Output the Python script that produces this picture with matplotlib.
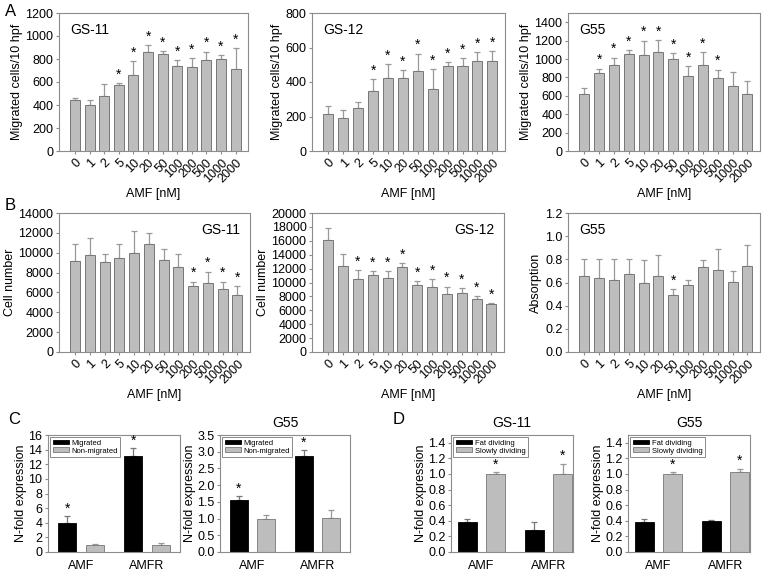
import numpy as np
import matplotlib
matplotlib.use('Agg')
import matplotlib.pyplot as plt

plt.rcParams['font.family'] = ['Liberation Sans', 'DejaVu Sans']
plt.rcParams['font.size'] = 9

# ---- data ----
doses = ['0', '1', '2', '5', '10', '20', '50', '100', '200', '500', '1000', '2000']

mig_gs11 = [445, 400, 480, 575, 660, 865, 845, 740, 730, 795, 800, 715]
mig_gs11_err = [15, 45, 100, 15, 125, 55, 25, 50, 80, 70, 35, 180]
mig_gs11_sig = [0, 0, 0, 1, 1, 1, 1, 1, 1, 1, 1, 1]

mig_gs12 = [215, 190, 252, 350, 425, 425, 465, 358, 490, 490, 520, 522]
mig_gs12_err = [47, 47, 31, 68, 80, 45, 100, 117, 27, 50, 55, 58]
mig_gs12_sig = [0, 0, 0, 1, 1, 1, 1, 1, 1, 1, 1, 1]

mig_g55 = [625, 850, 930, 1055, 1045, 1080, 995, 820, 930, 790, 710, 615]
mig_g55_err = [55, 45, 85, 45, 155, 125, 65, 105, 145, 95, 150, 145]
mig_g55_sig = [0, 1, 1, 1, 1, 1, 1, 1, 1, 1, 0, 0]

prol_gs11 = [9150, 9800, 9050, 9450, 9950, 10900, 9250, 8550, 6600, 7000, 6350, 5700]
prol_gs11_err = [1700, 1700, 800, 1400, 2250, 1100, 1100, 1300, 500, 1100, 750, 900]
prol_gs11_sig = [0, 0, 0, 0, 0, 0, 0, 0, 1, 1, 1, 1]

prol_gs12 = [16100, 12400, 10500, 11100, 10600, 12200, 9700, 9300, 8400, 8500, 7600, 6900]
prol_gs12_err = [1700, 1700, 1300, 500, 1000, 600, 500, 1200, 1000, 700, 400, 100]
prol_gs12_sig = [0, 0, 1, 1, 1, 1, 1, 1, 1, 1, 1, 1]

prol_g55 = [0.655, 0.64, 0.62, 0.67, 0.60, 0.66, 0.49, 0.58, 0.73, 0.705, 0.605, 0.745]
prol_g55_err = [0.145, 0.16, 0.18, 0.13, 0.19, 0.175, 0.05, 0.04, 0.06, 0.18, 0.09, 0.18]
prol_g55_sig = [0, 0, 0, 0, 0, 0, 1, 0, 0, 0, 0, 0]

genes = ['AMF', 'AMFR']

c1_mig = [4.0, 13.1]
c1_mig_err = [0.9, 1.1]
c1_non = [1.0, 1.0]
c1_non_err = [0.05, 0.2]
c1_sig = ([1, 1], [0, 0])

c2_mig = [1.55, 2.87]
c2_mig_err = [0.12, 0.18]
c2_non = [1.0, 1.02]
c2_non_err = [0.1, 0.25]
c2_sig = ([1, 1], [0, 0])

d1_fast = [0.38, 0.28]
d1_fast_err = [0.04, 0.11]
d1_slow = [1.0, 1.0]
d1_slow_err = [0.02, 0.13]
d1_sig = ([0, 0], [1, 1])

d2_fast = [0.38, 0.40]
d2_fast_err = [0.04, 0.01]
d2_slow = [1.0, 1.03]
d2_slow_err = [0.02, 0.04]
d2_sig = ([0, 0], [1, 1])

GRAY = '#bdbdbd'
EDGE = '#777777'
FRAME = '#8c8c8c'

W, H = 762, 571
fig = plt.figure(figsize=(W / 100, H / 100), dpi=100)


def px_axes(x0, x1, y0, y1):
    return fig.add_axes([x0 / W, 1 - y1 / H, (x1 - x0) / W, (y1 - y0) / H])


def style(ax):
    for s in ax.spines.values():
        s.set_color(FRAME)
        s.set_linewidth(0.8)
    ax.tick_params(axis='both', colors=FRAME, labelcolor='black', length=2.5, width=0.8, pad=1.5)


def dose_panel(ax, vals, errs, sig, ymax, yticks, ylabel, name, name_pos, fmt=None):
    x = np.arange(len(doses))
    ax.bar(x, vals, width=0.68, color=GRAY, edgecolor=EDGE, linewidth=0.7, zorder=2)
    ax.errorbar(x, vals, yerr=[np.zeros(len(vals)), errs], fmt='none',
                ecolor='#999999', elinewidth=0.9, capsize=2, capthick=0.9, zorder=1)
    for xi, v, e, s in zip(x, vals, errs, sig):
        if s:
            ax.text(xi, v + e + ymax * 0.01, '*', ha='center', va='bottom', fontsize=10)
    ax.set_xlim(-1.1, 11.85)
    ax.set_ylim(0, ymax)
    ax.set_yticks(yticks)
    if fmt:
        ax.set_yticklabels([fmt % t for t in yticks])
    ax.set_xticks(x)
    ax.set_xticklabels(doses, rotation=45, ha='right', rotation_mode='anchor')
    ax.set_xlabel('AMF [nM]', labelpad=2)
    ax.set_ylabel(ylabel, labelpad=2)
    if name_pos == 'left':
        ax.text(0.06, 0.93, name, transform=ax.transAxes, ha='left', va='top', fontsize=10)
    else:
        ax.text(0.95, 0.93, name, transform=ax.transAxes, ha='right', va='top', fontsize=10)
    style(ax)


axA1 = px_axes(59, 248, 13, 151)
dose_panel(axA1, mig_gs11, mig_gs11_err, mig_gs11_sig, 1200, range(0, 1201, 200),
           'Migrated cells/10 hpf', 'GS-11', 'left')
axA2 = px_axes(312, 505, 13, 151)
dose_panel(axA2, mig_gs12, mig_gs12_err, mig_gs12_sig, 800, range(0, 801, 200),
           'Migrated cells/10 hpf', 'GS-12', 'left')
axA3 = px_axes(568, 760, 13, 151)
dose_panel(axA3, mig_g55, mig_g55_err, mig_g55_sig, 1500, range(0, 1401, 200),
           'Migrated cells/10 hpf', 'G55', 'left')

axB1 = px_axes(59, 250, 213, 352)
dose_panel(axB1, prol_gs11, prol_gs11_err, prol_gs11_sig, 14000, range(0, 14001, 2000),
           'Cell number', 'GS-11', 'right')
axB2 = px_axes(312, 504, 213, 352)
dose_panel(axB2, prol_gs12, prol_gs12_err, prol_gs12_sig, 20000, range(0, 20001, 2000),
           'Cell number', 'GS-12', 'right')
axB3 = px_axes(568, 760, 213, 352)
dose_panel(axB3, prol_g55, prol_g55_err, prol_g55_sig, 1.2, np.arange(0, 1.21, 0.2),
           'Absorption', 'G55', 'left', fmt='%.1f')


def expr_panel(ax, a, a_err, b, b_err, sig, labels, ymax, yticks, fmt, title, xlim):
    x = np.arange(len(genes))
    off, w = 0.21, 0.28
    ax.bar(x - off, a, width=w, color='black', edgecolor='black', linewidth=0.6,
           label=labels[0], zorder=2)
    ax.bar(x + off, b, width=w, color=GRAY, edgecolor=EDGE, linewidth=0.6,
           label=labels[1], zorder=2)
    ax.errorbar(x - off, a, yerr=[np.zeros(2), a_err], fmt='none', ecolor='#777777',
                elinewidth=0.9, capsize=2, capthick=0.9, zorder=1)
    ax.errorbar(x + off, b, yerr=[np.zeros(2), b_err], fmt='none', ecolor='#999999',
                elinewidth=0.9, capsize=2, capthick=0.9, zorder=1)
    for xs, v, e, sg in ((x - off, a, a_err, sig[0]), (x + off, b, b_err, sig[1])):
        for xi, vi, ei, si in zip(xs, v, e, sg):
            if si:
                ax.text(xi, vi + ei + ymax * 0.005, '*', ha='center', va='bottom', fontsize=10)
    ax.set_xlim(*xlim)
    ax.set_ylim(0, ymax)
    ax.set_yticks(yticks)
    ax.set_yticklabels([fmt % t for t in yticks])
    ax.set_xticks(x)
    ax.set_xticklabels(genes)
    ax.set_ylabel('N-fold expression', labelpad=1)
    if title:
        ax.set_title(title, fontsize=10, pad=6)
    leg = ax.legend(loc='upper left', fontsize=5.5, frameon=True, fancybox=False,
                    borderaxespad=0.3, handlelength=2.2, handleheight=0.6,
                    handletextpad=0.3, borderpad=0.3, labelspacing=0.1)
    leg.get_frame().set_edgecolor('#555555')
    leg.get_frame().set_linewidth(0.6)
    style(ax)
    ax.tick_params(axis='x', length=0, pad=6)


axC1 = px_axes(48, 180, 435, 552)
expr_panel(axC1, c1_mig, c1_mig_err, c1_non, c1_non_err, c1_sig, ['Migrated', 'Non-migrated'],
           16, range(0, 17, 2), '%d', None, (-0.5, 1.5))
axC2 = px_axes(220, 350, 435, 552)
expr_panel(axC2, c2_mig, c2_mig_err, c2_non, c2_non_err, c2_sig, ['Migrated', 'Non-migrated'],
           3.5, np.arange(0, 3.51, 0.5), '%.1f', 'G55', (-0.5, 1.5))
axD1 = px_axes(451, 573, 435, 552)
expr_panel(axD1, d1_fast, d1_fast_err, d1_slow, d1_slow_err, d1_sig,
           ['Fat dividing', 'Slowly dividing'],
           1.5, np.arange(0, 1.41, 0.2), '%.1f', 'GS-11', (-0.455, 1.366))
axD2 = px_axes(628, 750, 435, 552)
expr_panel(axD2, d2_fast, d2_fast_err, d2_slow, d2_slow_err, d2_sig,
           ['Fat dividing', 'Slowly dividing'],
           1.5, np.arange(0, 1.41, 0.2), '%.1f', 'G55', (-0.455, 1.366))

for lab, x, y in (('A', 5, 12), ('B', 5, 205), ('C', 8, 420), ('D', 393, 420)):
    fig.text(x / W, 1 - y / H, lab, fontsize=12, ha='left', va='center')

fig.savefig('out.png', dpi=100)
